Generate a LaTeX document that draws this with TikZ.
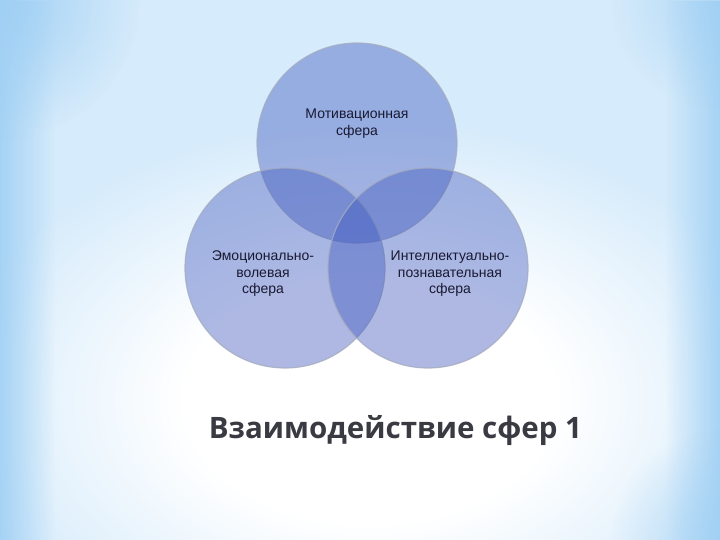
\documentclass[tikz,border=0pt]{standalone}
\usepackage{fontspec}
\usetikzlibrary{fadings}
\setmainfont{Liberation Sans}
\newfontfamily\titlefont{Open Sans}
\definecolor{bgblue}{RGB}{160,208,244}
\definecolor{bgmid}{RGB}{214,235,251}
\definecolor{spherefill}{RGB}{62,88,190}
\definecolor{sphereline}{RGB}{165,172,192}
\definecolor{labeltext}{RGB}{25,25,50}
\definecolor{titletext}{RGB}{58,58,66}
\pgfdeclareradialshading{glow}{\pgfpoint{0bp}{0bp}}{%
  color(0bp)=(white); color(11bp)=(white); color(25bp)=(bgmid); color(50bp)=(bgmid)}
\tikzfading[name=fadetoright, left color=transparent!0, right color=transparent!100]
\tikzfading[name=fadetoleft, left color=transparent!100, right color=transparent!0]
\tikzfading[name=fadeout, inner color=transparent!0, outer color=transparent!100]
\tikzset{
  sphere/.style={fill=spherefill, fill opacity=0.42, draw=sphereline, draw opacity=0.8, line width=1.2pt},
  spherelabel/.style={align=center, text=labeltext, font=\fontsize{14}{16.5}\selectfont},
  titlestyle/.style={anchor=base, text=titletext, font=\titlefont\bfseries\fontsize{29.5}{34}\selectfont},
}
\begin{document}
\begin{tikzpicture}[x=1pt,y=-1pt]
\useasboundingbox (0,0) rectangle (720,540);
% background
\fill[bgmid] (0,0) rectangle (720,540);
\shade[shading=glow] (370,400) ellipse (420 and 280);
\fill[bgblue, path fading=fadetoright, fill opacity=0.9] (0,0) rectangle (55,540);
\fill[bgblue, path fading=fadetoleft, fill opacity=0.9] (665,0) rectangle (720,540);
\fill[bgblue, path fading=fadeout] (0,0) circle (140);
\fill[bgblue, path fading=fadeout, fill opacity=0.7] (720,0) circle (110);
\fill[bgblue, path fading=fadeout, fill opacity=0.7] (720,540) circle (110);
% spheres
\draw[sphere] (357,143) circle (100);
\draw[sphere] (285,268) circle (100);
\draw[sphere] (428,268) circle (100);
\node[spherelabel] (mot) at (357,123.5) {Мотивационная\\сфера};
\node[spherelabel] (emo) at (263,274) {Эмоционально-\\волевая\\сфера};
\node[spherelabel] (int) at (450,274) {Интеллектуально-\\познавательная\\сфера};
% title
\node[titlestyle] (title) at (395.5,438) {Взаимодействие сфер 1};
\end{tikzpicture}
\end{document}
